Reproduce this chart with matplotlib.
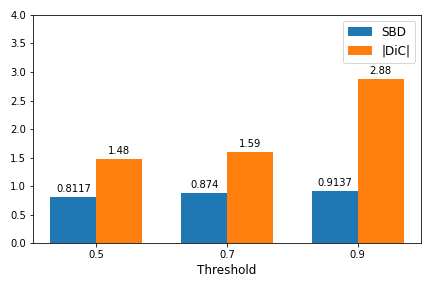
import numpy as np
import matplotlib
matplotlib.use("Agg")
import matplotlib.pyplot as plt

thresholds = ["0.5", "0.7", "0.9"]
sbd = [0.8117, 0.874, 0.9137]
dic = [1.48, 1.59, 2.88]

x = np.arange(len(thresholds))
w = 0.35

fig, ax = plt.subplots(figsize=(6, 4), dpi=72)
b1 = ax.bar(x - w / 2, sbd, w, label="SBD")
b2 = ax.bar(x + w / 2, dic, w, label="|DiC|")

# etiquetas em cima das barras
for bars, vals in ((b1, sbd), (b2, dic)):
    for r, v in zip(bars, vals):
        ax.annotate(str(v), xy=(r.get_x() + r.get_width() / 2, r.get_height()),
                    xytext=(0, 3), textcoords="offset points",
                    ha="center", va="bottom")

ax.set_xticks(x)
ax.set_xticklabels(thresholds)
ax.set_ylim(0, 4.0)
ax.set_xlabel("Threshold", fontsize=12)
ax.legend(fontsize=12)
fig.subplots_adjust(left=0.076, right=0.975, top=0.948, bottom=0.156)
fig.savefig("out.png")
